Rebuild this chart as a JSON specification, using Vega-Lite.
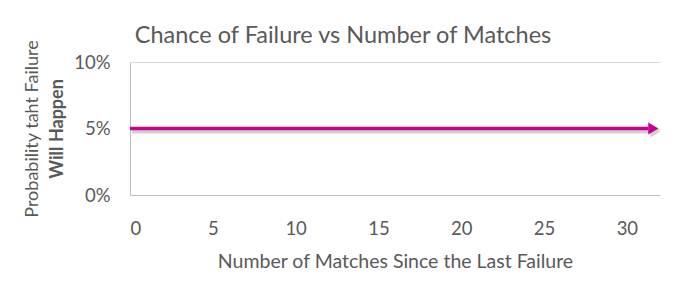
{
  "$schema": "https://vega.github.io/schema/vega-lite/v6.json",
  "width": 530,
  "height": 133,
  "autosize": {"type": "none"},
  "padding": {"left": 130, "top": 62, "right": 25, "bottom": 87},
  "background": "white",
  "title": {
    "text": "Chance of Failure vs Number of Matches",
    "font": "Lato",
    "fontSize": 23.5,
    "fontWeight": "normal",
    "color": "#595959",
    "anchor": "middle",
    "frame": "group",
    "dx": -52,
    "offset": -8
  },
  "datasets": {
    "line": [
      {"matches": 0, "probability": 0.05},
      {"matches": 31.3, "probability": 0.05}
    ],
    "arrow": [
      {"matches": 31.6, "probability": 0.05}
    ]
  },
  "config": {
    "view": {"stroke": null},
    "font": "Lato",
    "axis": {
      "labelFont": "Lato",
      "titleFont": "Lato",
      "labelColor": "#595959",
      "titleColor": "#595959",
      "labelFontSize": 18.5,
      "titleFontSize": 18,
      "titleFontWeight": "normal",
      "ticks": false,
      "gridColor": "#d9d9d9",
      "domainColor": "#bfbfbf"
    }
  },
  "layer": [
    {
      "encoding": {
        "x": {
          "field": "matches",
          "type": "quantitative",
          "scale": {"domain": [0, 32], "nice": false},
          "axis": {
            "values": [0, 5, 10, 15, 20, 25, 30],
            "grid": false,
            "labelPadding": 24,
            "title": "Number of Matches Since the Last Failure",
            "titleFontSize": 19.5,
            "titlePadding": 15
          }
        },
        "y": {
          "field": "probability",
          "type": "quantitative",
          "scale": {"domain": [0, 0.1], "nice": false},
          "axis": {
            "orient": "left",
            "values": [0, 0.05, 0.1],
            "format": ".0%",
            "grid": true,
            "labelPadding": 20,
            "title": "Will Happen",
            "titleFontWeight": "bold",
            "titleAngle": -90,
            "titleAlign": "center",
            "titleBaseline": "middle",
            "titleX": -73,
            "titleY": 66.5
          }
        }
      },
      "layer": [
        {
          "data": {"name": "line"},
          "mark": {"type": "line", "color": "#000000", "opacity": 0.18, "strokeWidth": 4, "xOffset": 2, "yOffset": 3}
        },
        {
          "data": {"name": "arrow"},
          "mark": {"type": "point", "shape": "triangle-right", "filled": true, "color": "#000000", "opacity": 0.18, "size": 140, "xOffset": 2, "yOffset": 3}
        }
      ]
    },
    {
      "encoding": {
        "x": {"field": "matches", "type": "quantitative", "scale": {"domain": [0, 32], "nice": false}},
        "y": {
          "field": "probability",
          "type": "quantitative",
          "scale": {"domain": [0, 0.1], "nice": false},
          "axis": {
            "orient": "left",
            "labels": false,
            "domain": false,
            "grid": false,
            "ticks": false,
            "title": "Probability taht Failure",
            "titleAngle": -90,
            "titleAlign": "center",
            "titleBaseline": "middle",
            "titleX": -98,
            "titleY": 66.5
          }
        }
      },
      "layer": [
        {
          "data": {"name": "line"},
          "mark": {"type": "line", "color": "#C8008F", "strokeWidth": 3.5}
        },
        {
          "data": {"name": "arrow"},
          "mark": {"type": "point", "shape": "triangle-right", "filled": true, "color": "#C8008F", "opacity": 1, "size": 140}
        }
      ]
    }
  ],
  "resolve": {"scale": {"y": "independent"}, "axis": {"y": "independent"}}
}
